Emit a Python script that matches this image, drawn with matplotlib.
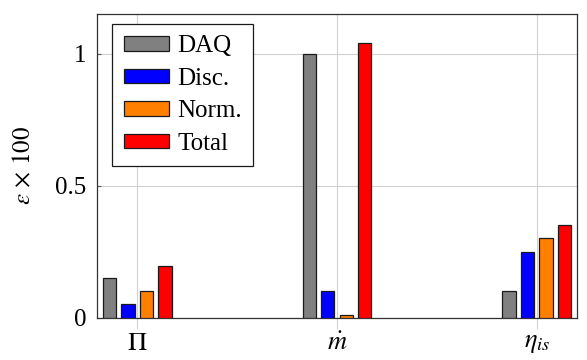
import matplotlib
matplotlib.use("Agg")
import matplotlib.pyplot as plt
import numpy as np

plt.rcParams['font.family'] = ['Liberation Serif', 'DejaVu Serif']
plt.rcParams['mathtext.fontset'] = 'stix'

categories = [r'$\Pi$', r'$\dot{m}$', r'$\eta_{is}$']
series_names = ['DAQ', 'Disc.', 'Norm.', 'Total']
daq = [0.15, 1.0, 0.10]
disc = [0.05, 0.10, 0.25]
norm = [0.10, 0.01, 0.30]
total = [0.196, 1.04, 0.35]
colors = ['#808080', '#0000ff', '#ff8000', '#ff0000']
yticks = [0, 0.5, 1]
ytick_labels = ['0', '0.5', '1']

fig = plt.figure(figsize=(5.87, 3.6), dpi=100)
ax = fig.add_axes([97.3/587, 1-317.5/360, (576.7-97.3)/587, (317.5-14)/360])

x = np.arange(len(categories))
offsets = [-0.139, -0.0465, 0.0465, 0.139]
width = 0.0667
for vals, off, c, name in zip([daq, disc, norm, total], offsets, colors, series_names):
    ax.bar(x + off, vals, width, color=c, edgecolor='#1a1a1a', linewidth=0.9, label=name, zorder=3)

ax.set_xlim(-0.2, 2.2)
ax.set_ylim(0, 1.15)
ax.set_xticks(x)
ax.set_xticklabels(categories, fontsize=19)
ax.set_yticks(yticks)
ax.set_yticklabels(ytick_labels, fontsize=18)
ax.grid(True, color='#d0d0d0', linewidth=0.8, zorder=0)
ax.set_axisbelow(True)
ax.tick_params(axis='y', direction='in', length=3, color='#555555', pad=8)
ax.tick_params(axis='x', direction='out', length=8, color='#d0d0d0', pad=3)
for s in ax.spines.values():
    s.set_color('#333333')
    s.set_linewidth(0.9)
ax.set_ylabel(r'$\varepsilon\,\times\,100$', fontsize=18, labelpad=14)

leg = ax.legend(loc='upper left', bbox_to_anchor=(15/479.4, 1-10/303.5), fontsize=18,
                frameon=True, fancybox=False, edgecolor='#1a1a1a', framealpha=1,
                handlelength=1.8, handleheight=0.5, handletextpad=0.35,
                labelspacing=0.42, borderpad=0.45, borderaxespad=0)
leg.get_frame().set_linewidth(0.9)

fig.savefig('out.png', dpi=100)
